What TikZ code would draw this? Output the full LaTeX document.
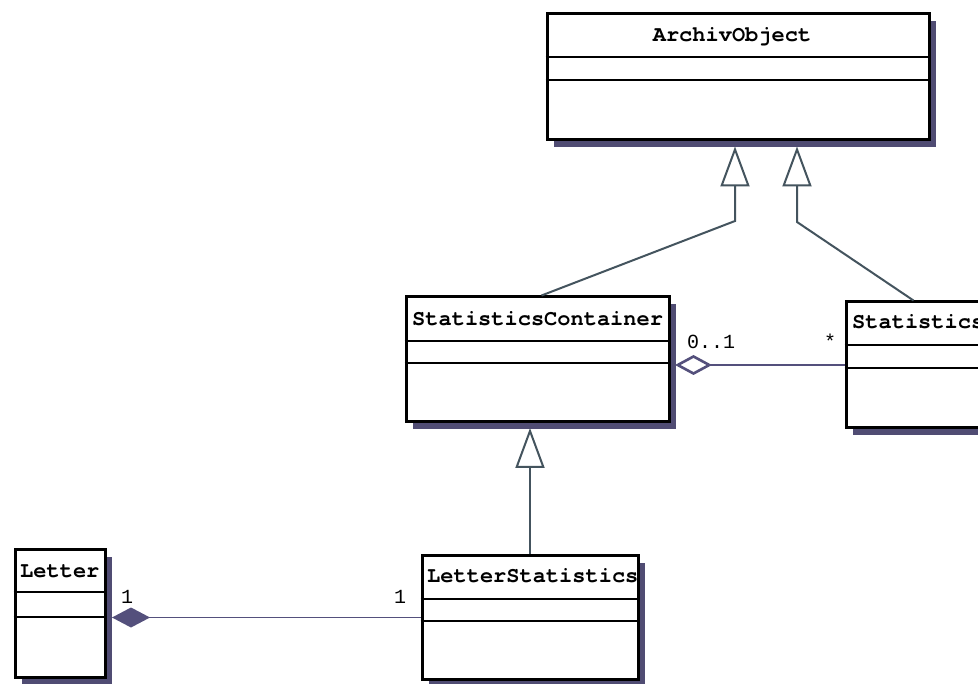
\documentclass[tikz,border=0pt]{standalone}
\usepackage{fontspec}
\newfontfamily\courfont{TeX Gyre Cursor}
\newfontfamily\labfont{Liberation Mono}
\usetikzlibrary{arrows.meta,shadows,calc}
\definecolor{shadowc}{RGB}{80,76,115}
\definecolor{inhc}{RGB}{68,84,94}
\definecolor{assc}{RGB}{84,80,124}
\tikzset{
  umlclass/.style={draw=black, line width=3pt, fill=white, rectangle, inner sep=0pt,
    anchor=north west,
    general shadow={fill=shadowc, shadow xshift=7pt, shadow yshift=-7pt}},
  compline/.style={draw=black, line width=1.6pt},
  classname/.style={inner sep=0pt, font=\courfont\bfseries\fontsize{22}{26}\selectfont},
  multlabel/.style={inner sep=0pt, anchor=base, font=\labfont\fontsize{20}{24}\selectfont},
  inherit/.style={draw=inhc, line width=2pt, -{Triangle[length=40pt,width=29pt,fill=white]}},
  aggrline/.style={draw=assc, line width=1.6pt, {Diamond[length=37pt,width=20pt,fill=white,line width=2.6pt]}-},
  compline2/.style={draw=assc, line width=1.6pt, {Diamond[length=38pt,width=20pt,fill=assc,line width=2pt]}-}
}
\begin{document}
\begin{tikzpicture}[x=1pt,y=-1pt]
\clip (0,0) rectangle (978,684);
\fill[white] (0,0) rectangle (978,684);

% classes
\node[umlclass, minimum width=382pt, minimum height=126pt] (AO) at (545.5,12.5) {};
\node[umlclass, minimum width=263pt, minimum height=125pt] (SC) at (404.5,295.5) {};
\node[umlclass, minimum width=150pt, minimum height=126pt] (St) at (844.5,300.5) {};
\node[umlclass, minimum width=216pt, minimum height=123pt] (LS) at (420.5,554.5) {};
\node[umlclass, minimum width=90pt, minimum height=127pt] (Le) at (13.5,548.5) {};

% compartments
\draw[compline] ($(AO.north west)+(0,44.5)$) -- ($(AO.north east)+(0,44.5)$);
\draw[compline] ($(AO.north west)+(0,67.5)$) -- ($(AO.north east)+(0,67.5)$);
\draw[compline] ($(SC.north west)+(0,45.5)$) -- ($(SC.north east)+(0,45.5)$);
\draw[compline] ($(SC.north west)+(0,67.5)$) -- ($(SC.north east)+(0,67.5)$);
\draw[compline] ($(St.north west)+(0,44.5)$) -- ($(St.north east)+(0,44.5)$);
\draw[compline] ($(St.north west)+(0,67.5)$) -- ($(St.north east)+(0,67.5)$);
\draw[compline] ($(LS.north west)+(0,44.5)$) -- ($(LS.north east)+(0,44.5)$);
\draw[compline] ($(LS.north west)+(0,66.5)$) -- ($(LS.north east)+(0,66.5)$);
\draw[compline] ($(Le.north west)+(0,43.5)$) -- ($(Le.north east)+(0,43.5)$);
\draw[compline] ($(Le.north west)+(0,68.5)$) -- ($(Le.north east)+(0,68.5)$);

% names
\node[classname, anchor=base] (AOn) at (732,42) {ArchivObject};
\node[classname, anchor=base west] (SCn) at (412,326) {StatisticsContainer};
\node[classname, anchor=base west] (Stn) at (852,329) {Statistics};
\node[classname, anchor=base west] (LSn) at (427,582) {LetterStatistics};
\node[classname, anchor=base west] (Len) at (20,577) {Letter};

% inheritance
\coordinate (k1) at (735,221);
\coordinate (k2) at (797,222);
\coordinate (k3) at (530,500);
\draw[inherit] ($(SC.north west)+(137,0)$) -- (k1) -- ($(AO.south -| k1)+(0,5)$);
\draw[inherit] ($(St.north west)+(69,0)$) -- (k2) -- ($(AO.south -| k2)+(0,5)$);
\draw[inherit] (LS.north -| k3) -- ($(SC.south -| k3)+(0,4.5)$);

% aggregation
\draw[aggrline] ($(SC.east |- St.west)+(4.5,0)$) -- (St.west);
\node[multlabel] (m01) at (711,349) {0..1};
\node[multlabel] (mst) at (830,349) {*};

% composition
\draw[compline2] ($(Le.east |- LS.west)+(5.5,0)$) -- (LS.west);
\node[multlabel] (m1a) at (127,603) {1};
\node[multlabel] (m1b) at (400,603) {1};
\end{tikzpicture}
\end{document}
